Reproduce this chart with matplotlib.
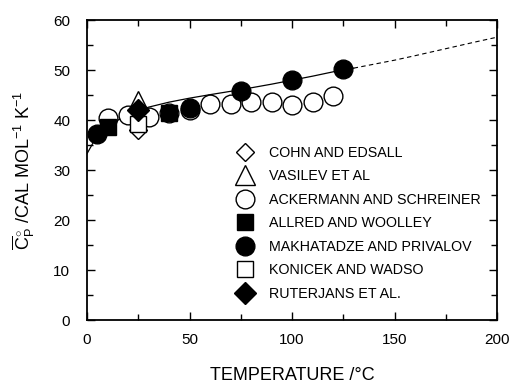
import matplotlib
matplotlib.use('Agg')
import matplotlib.pyplot as plt
from matplotlib.ticker import MultipleLocator

plt.rcParams['font.family'] = ['Liberation Sans', 'DejaVu Sans']
plt.rcParams['mathtext.fontset'] = 'custom'
plt.rcParams['mathtext.rm'] = 'Liberation Sans'
plt.rcParams['mathtext.it'] = 'Liberation Sans'

# heat capacity data (cal/mol/K) vs temperature (degC)
cohn_t = [25]
cohn_cp = [38.0]
vasilev_t = [25]
vasilev_cp = [43.8]
ackermann_t = [10, 20, 30, 40, 50, 60, 70, 80, 90, 100, 110, 120]
ackermann_cp = [40.5, 41.0, 40.6, 41.5, 42.0, 43.3, 43.3, 43.6, 43.6, 43.0, 43.6, 44.8]
allred_t = [10, 40]
allred_cp = [38.6, 41.5]
makhatadze_t = [5, 50, 75, 100, 125]
makhatadze_cp = [37.3, 42.5, 45.8, 48.0, 50.2]
konicek_t = [25]
konicek_cp = [39.3]
ruterjans_t = [25]
ruterjans_cp = [42.0]

# fitted curve, solid over the measured range, dashed beyond it
fit_t = [0, 3, 6, 10, 15, 20, 25, 30, 40, 50, 60, 75, 90, 100, 110, 125, 130]
fit_cp = [33.3, 35.5, 37.0, 38.6, 40.0, 41.0, 41.9, 42.6, 43.6, 44.4, 45.1, 46.1, 47.2, 48.0, 48.8, 50.1, 50.4]
ext_t = [130, 140, 150, 160, 175, 190, 200]
ext_cp = [50.4, 51.2, 52.0, 52.9, 54.3, 55.7, 56.6]

fig = plt.figure(figsize=(5.12, 3.88), dpi=100)
ax = fig.add_axes([0.170, 0.175, 0.801, 0.773])

ax.plot(fit_t, fit_cp, color='black', lw=0.9, zorder=1)
ax.plot(ext_t, ext_cp, color='black', lw=0.8, ls=(0, (4, 3)), zorder=1)

open_kw = dict(ls='none', mfc='white', mec='black', mew=1.0)
fill_kw = dict(ls='none', mfc='black', mec='black', mew=1.0)

ax.plot(ackermann_t, ackermann_cp, 'o', ms=13.5, label='ACKERMANN AND SCHREINER', zorder=2, **open_kw)
ax.plot(cohn_t, cohn_cp, 'D', ms=9, label='COHN AND EDSALL', zorder=3, **open_kw)
ax.plot(vasilev_t, vasilev_cp, '^', ms=14, label='VASILEV ET AL', zorder=3, **open_kw)
ax.plot(konicek_t, konicek_cp, 's', ms=11, label='KONICEK AND WADSO', zorder=4, **open_kw)
ax.plot(allred_t, allred_cp, 's', ms=11, label='ALLRED AND WOOLLEY', zorder=5, **fill_kw)
ax.plot(makhatadze_t, makhatadze_cp, 'o', ms=13.5, label='MAKHATADZE AND PRIVALOV', zorder=5, **fill_kw)
ax.plot(ruterjans_t, ruterjans_cp, 'D', ms=11, label='RUTERJANS ET AL.', zorder=6, **fill_kw)

handles, labels = ax.get_legend_handles_labels()
order = ['COHN AND EDSALL', 'VASILEV ET AL', 'ACKERMANN AND SCHREINER',
         'ALLRED AND WOOLLEY', 'MAKHATADZE AND PRIVALOV', 'KONICEK AND WADSO',
         'RUTERJANS ET AL.']
hmap = dict(zip(labels, handles))
ax.legend([hmap[k] for k in order], order, loc='upper left',
          bbox_to_anchor=(0.345, 0.60), frameon=False, fontsize=10.3,
          handlelength=1.5, handletextpad=0.95, labelspacing=0.66,
          borderaxespad=0, numpoints=1)

ax.set_xlim(0, 200)
ax.set_ylim(0, 60)
ax.xaxis.set_major_locator(MultipleLocator(50))
ax.xaxis.set_minor_locator(MultipleLocator(25))
ax.yaxis.set_major_locator(MultipleLocator(10))
ax.yaxis.set_minor_locator(MultipleLocator(5))
ax.tick_params(which='both', direction='in', top=True, right=True, width=1.0,
               labelsize=11, pad=9)
ax.tick_params(which='major', length=6)
ax.tick_params(which='minor', length=4)
ax.tick_params(axis='y', pad=12)
for s in ax.spines.values():
    s.set_linewidth(1.3)

ax.set_xlabel('TEMPERATURE /°C', fontsize=13, labelpad=15)
ax.set_ylabel(r'$\overline{\mathrm{C}}^{\circ}_{\mathrm{P}}$ /CAL MOL$^{-1}$ K$^{-1}$',
              fontsize=13, labelpad=12)

fig.savefig('out.png', dpi=100)
